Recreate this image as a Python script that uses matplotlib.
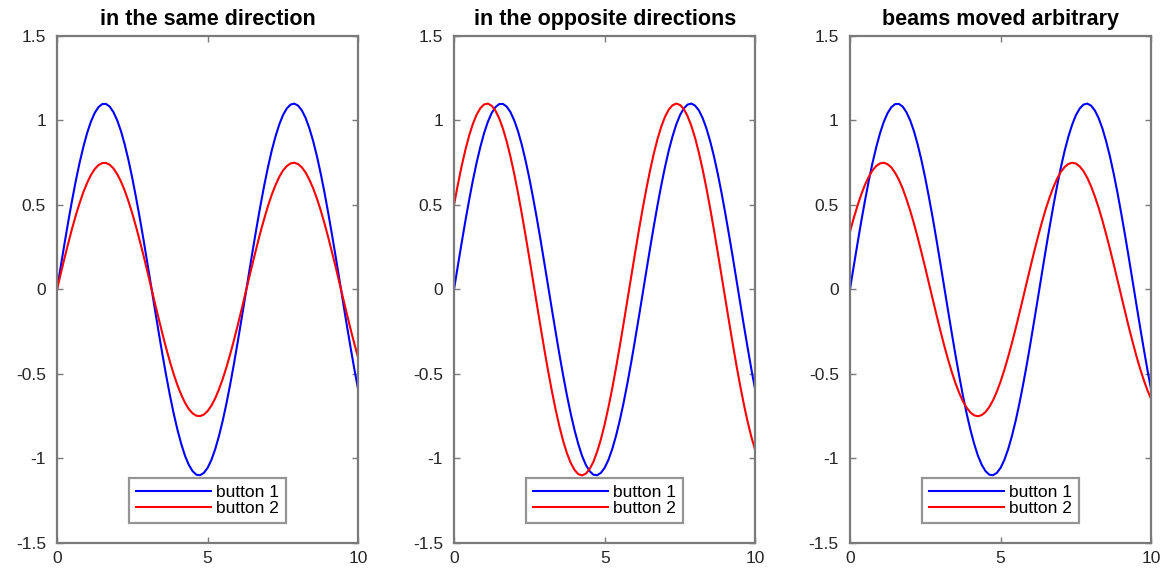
import numpy as np
import matplotlib
matplotlib.use("Agg")
import matplotlib.pyplot as plt

plt.rcParams['font.family'] = ['Liberation Sans', 'DejaVu Sans']

# x positions (0 .. 10, step 0.125)
x = np.arange(81) * 0.125

# button 1, same in every panel
button1 = [0.000, 0.137, 0.272, 0.403, 0.527, 0.644, 0.750, 0.844, 0.926, 0.993,
           1.044, 1.079, 1.097, 1.098, 1.082, 1.049, 1.000, 0.936, 0.856, 0.763,
           0.658, 0.542, 0.420, 0.290, 0.155, 0.018, -0.119, -0.254, -0.386, -0.511,
           -0.629, -0.736, -0.832, -0.915, -0.985, -1.038, -1.075, -1.096, -1.099, -1.085,
           -1.055, -1.008, -0.945, -0.867, -0.776, -0.673, -0.559, -0.437, -0.307, -0.173,
           -0.037, 0.101, 0.237, 0.369, 0.495, 0.614, 0.723, 0.821, 0.905, 0.976,
           1.032, 1.071, 1.094, 1.100, 1.088, 1.060, 1.015, 0.954, 0.878, 0.789,
           0.687, 0.575, 0.453, 0.325, 0.192, 0.055, -0.083, -0.219, -0.351, -0.479,
           -0.598]

# button 2, one per panel
button2_same = [0.000, 0.094, 0.186, 0.275, 0.360, 0.439, 0.511, 0.576, 0.631, 0.677,
                0.712, 0.736, 0.748, 0.749, 0.738, 0.716, 0.682, 0.638, 0.584, 0.520,
                0.449, 0.370, 0.286, 0.198, 0.106, 0.012, -0.081, -0.173, -0.263, -0.349,
                -0.429, -0.502, -0.568, -0.624, -0.671, -0.708, -0.733, -0.747, -0.749, -0.740,
                -0.719, -0.687, -0.644, -0.591, -0.529, -0.459, -0.381, -0.298, -0.210, -0.118,
                -0.025, 0.069, 0.161, 0.251, 0.338, 0.418, 0.493, 0.560, 0.617, 0.666,
                0.704, 0.730, 0.746, 0.750, 0.742, 0.723, 0.692, 0.650, 0.599, 0.538,
                0.469, 0.392, 0.309, 0.221, 0.131, 0.037, -0.056, -0.149, -0.240, -0.326,
                -0.408]
button2_opp = [0.500, 0.618, 0.727, 0.824, 0.909, 0.979, 1.034, 1.073, 1.095, 1.100,
               1.087, 1.058, 1.013, 0.951, 0.875, 0.785, 0.683, 0.570, 0.448, 0.319,
               0.186, 0.049, -0.088, -0.224, -0.357, -0.484, -0.603, -0.713, -0.812, -0.898,
               -0.970, -1.027, -1.068, -1.093, -1.100, -1.090, -1.063, -1.020, -0.960, -0.886,
               -0.798, -0.697, -0.586, -0.465, -0.337, -0.204, -0.067, 0.070, 0.206, 0.340,
               0.467, 0.588, 0.699, 0.800, 0.888, 0.962, 1.021, 1.064, 1.090, 1.100,
               1.092, 1.068, 1.026, 0.969, 0.897, 0.810, 0.711, 0.601, 0.481, 0.354,
               0.221, 0.085, -0.052, -0.188, -0.322, -0.451, -0.572, -0.685, -0.787, -0.877,
               -0.953]
button2_arb = [0.341, 0.422, 0.496, 0.562, 0.620, 0.667, 0.705, 0.731, 0.746, 0.750,
               0.741, 0.722, 0.690, 0.649, 0.597, 0.535, 0.466, 0.389, 0.306, 0.218,
               0.127, 0.033, -0.060, -0.153, -0.243, -0.330, -0.411, -0.486, -0.554, -0.612,
               -0.662, -0.700, -0.728, -0.745, -0.750, -0.743, -0.725, -0.695, -0.655, -0.604,
               -0.544, -0.475, -0.399, -0.317, -0.230, -0.139, -0.046, 0.048, 0.141, 0.232,
               0.319, 0.401, 0.477, 0.545, 0.605, 0.656, 0.696, 0.725, 0.743, 0.750,
               0.745, 0.728, 0.700, 0.661, 0.611, 0.552, 0.485, 0.410, 0.328, 0.242,
               0.151, 0.058, -0.035, -0.128, -0.220, -0.307, -0.390, -0.467, -0.536, -0.598,
               -0.650]

titles = ['in the same direction', 'in the opposite directions', 'beams moved arbitrary']
labels = ['button 1', 'button 2']
xticks = [0, 5, 10]
yticks = [-1.5, -1, -0.5, 0, 0.5, 1, 1.5]
yticklabels = ['-1.5', '-1', '-0.5', '0', '0.5', '1', '1.5']

fig = plt.figure(figsize=(11.68, 5.73), dpi=100)
lefts = [0.0488, 0.3887, 0.7277]
grey = '#7a7a7a'

for left, title, red in zip(lefts, titles, [button2_same, button2_opp, button2_arb]):
    ax = fig.add_axes([left, 0.0524, 0.258, 0.8848])
    ax.plot(x, button1, color='#0000ff', lw=1.5, label=labels[0])
    ax.plot(x, red, color='#ff0000', lw=1.5, label=labels[1])
    ax.set_xlim(0, 10)
    ax.set_ylim(-1.5, 1.5)
    ax.set_xticks(xticks)
    ax.set_yticks(yticks)
    ax.set_yticklabels(yticklabels)
    ax.set_title(title, fontsize=15.5, fontweight='bold', pad=8)
    for s in ax.spines.values():
        s.set_color(grey)
        s.set_linewidth(1.6)
    ax.tick_params(direction='in', length=4, width=1, color=grey,
                   top=True, right=True, labelsize=12.5, labelcolor='#262626')
    ax.tick_params(axis='y', pad=8)
    ax.tick_params(axis='x', pad=6)
    leg = ax.legend(loc='lower center', bbox_to_anchor=(0.5, 0.039), fontsize=12.5,
                    frameon=True, fancybox=False, handlelength=4.3, handletextpad=0.3,
                    borderpad=0.4, borderaxespad=0, labelspacing=0.05)
    leg.get_frame().set_edgecolor(grey)
    leg.get_frame().set_linewidth(1.6)

fig.savefig('out.png', dpi=100)
